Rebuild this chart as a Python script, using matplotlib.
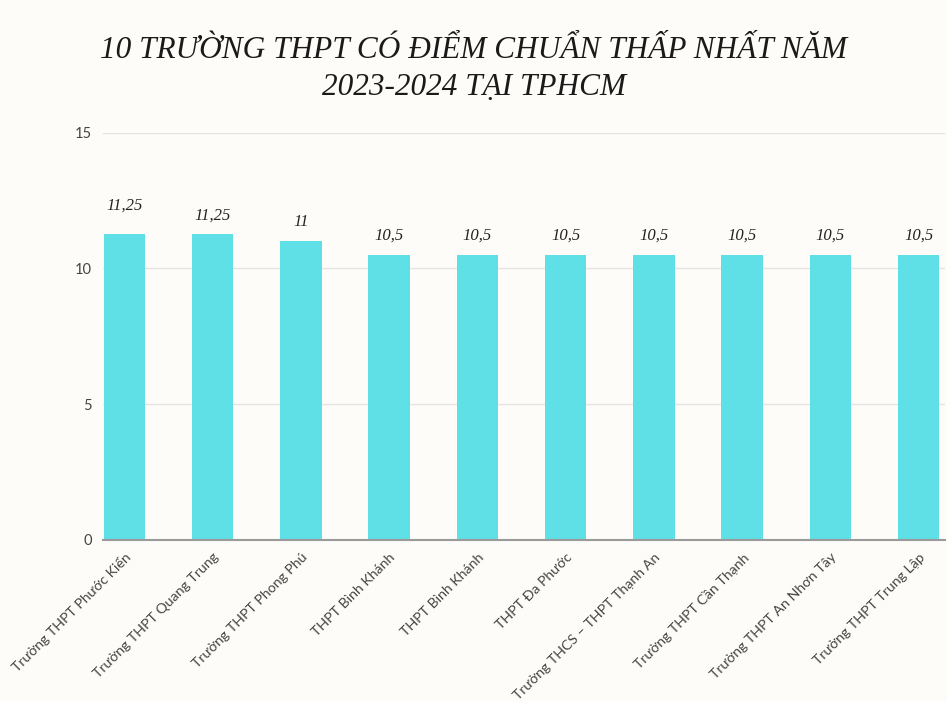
import matplotlib
matplotlib.use("Agg")
import matplotlib.pyplot as plt

# Điểm chuẩn lớp 10 năm 2023-2024
schools = ["Trường THPT Phước Kiển", "Trường THPT Quang Trung", "Trường THPT Phong Phú",
           "THPT Bình Khánh", "THPT Bình Khánh", "THPT Đa Phước",
           "Trường THCS – THPT Thạnh An", "Trường THPT Cần Thạnh",
           "Trường THPT An Nhơn Tây", "Trường THPT Trung Lập"]
scores = [11.25, 11.25, 11, 10.5, 10.5, 10.5, 10.5, 10.5, 10.5, 10.5]
score_labels = ["11,25", "11,25", "11", "10,5", "10,5", "10,5", "10,5", "10,5", "10,5", "10,5"]
yticks = [0, 5, 10, 15]

bg = "#fdfcf8"
bar_color = "#5ee0e6"

fig = plt.figure(figsize=(9.47, 7.02), dpi=100, facecolor=bg)
ax = fig.add_axes([0.109, 0.231, 0.889, 0.58])
ax.set_facecolor(bg)

x = range(len(schools))
bars = ax.bar(x, scores, width=0.47, color=bar_color, zorder=3)

for i, (b, lab) in enumerate(zip(bars, score_labels)):
    off = 15 if i == 0 else 8
    ax.annotate(lab, (b.get_x() + b.get_width() / 2, b.get_height()),
                xytext=(0, off), textcoords="offset points", ha="center", va="bottom",
                family="Liberation Serif", style="italic", fontsize=12, color="#222222")

ax.set_xlim(-0.24, len(schools) - 0.7)
ax.set_ylim(0, 15)
ax.set_yticks(yticks)
ax.set_yticklabels([str(t) for t in yticks], family="Lato", fontsize=10.5, color="#444444")
ax.set_xticks(list(x))
ax.set_xticklabels(schools, rotation=45, ha="right", rotation_mode="anchor",
                   family="Lato", fontsize=10.2, color="#444444")
ax.tick_params(axis="both", length=0)
ax.tick_params(axis="y", pad=8)
ax.tick_params(axis="x", pad=8)
ax.grid(axis="y", color="#e4e4e4", linewidth=1, zorder=0)
for s in ["top", "right", "left"]:
    ax.spines[s].set_visible(False)
ax.spines["bottom"].set_color("#9a9a9a")
ax.spines["bottom"].set_linewidth(1.5)
ax.spines["bottom"].set_zorder(4)

fig.text(0.5, 0.902, "10 TRƯỜNG THPT CÓ ĐIỂM CHUẨN THẤP NHẤT NĂM\n2023-2024 TẠI TPHCM",
         ha="center", va="center", family="Liberation Serif", style="italic",
         fontsize=22.5, color="#1a1a1a", linespacing=1.38)

fig.savefig("out.png", dpi=100, facecolor=bg)
